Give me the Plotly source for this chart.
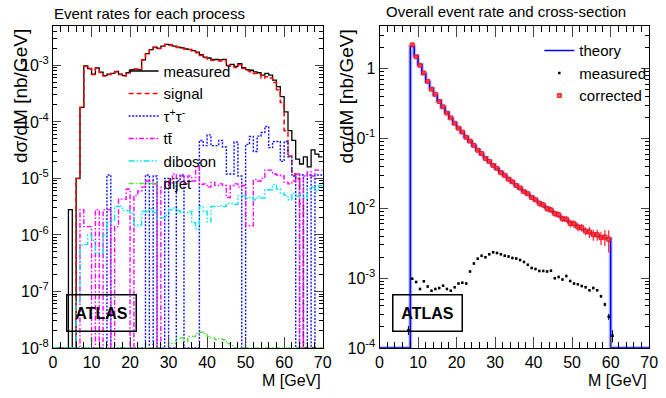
import plotly.graph_objects as go

# ---------------- data (1 GeV bins, 0..70 GeV) ----------------
bin_edges = list(range(0, 71))

measured = [0, 0, 0, 0, 2.8e-6, 0, 1.0e-5, 1.8e-4,
            9.8e-4, 8.8e-4, 7.0e-4, 9.0e-4, 7.6e-4, 6.6e-4, 7.0e-4, 7.2e-4, 7.8e-4, 7.0e-4,
            6.6e-4, 7.4e-4, 8.4e-4, 8.6e-4, 8.4e-4, 1.25e-3, 1.62e-3, 1.9e-3, 2.1e-3, 2.0e-3,
            2.2e-3, 2.35e-3, 2.3e-3, 2.2e-3, 2.1e-3, 2.05e-3, 1.95e-3, 1.92e-3, 1.82e-3, 1.71e-3,
            1.55e-3, 1.40e-3, 1.35e-3, 1.27e-3, 1.27e-3, 1.25e-3, 1.28e-3, 1.0e-3, 1.04e-3, 0.96e-3,
            1.07e-3, 0.91e-3, 0.84e-3, 0.82e-3, 0.77e-3, 0.74e-3, 0.67e-3, 0.72e-3, 0.67e-3, 0.55e-3,
            0.42e-3, 0.28e-3, 1.5e-4, 7e-5, 4.7e-5, 2.2e-5, 1.8e-5, 2.4e-5, 1.6e-5, 3.2e-5,
            2.7e-5, 2.4e-5]

signal = [0, 0, 0, 0, 0, 0, 1.0e-5, 1.8e-4,
          9.7e-4, 8.7e-4, 6.9e-4, 8.9e-4, 7.5e-4, 6.5e-4, 6.9e-4, 7.1e-4, 7.7e-4, 6.9e-4,
          6.5e-4, 7.3e-4, 8.3e-4, 8.5e-4, 8.3e-4, 1.24e-3, 1.6e-3, 1.88e-3, 2.08e-3, 1.98e-3,
          2.18e-3, 2.33e-3, 2.28e-3, 2.18e-3, 2.08e-3, 2.03e-3, 1.93e-3, 1.9e-3, 1.8e-3, 1.68e-3,
          1.5e-3, 1.36e-3, 1.3e-3, 1.23e-3, 1.23e-3, 1.2e-3, 1.24e-3, 0.98e-3, 1.0e-3, 0.92e-3,
          1.03e-3, 0.88e-3, 0.8e-3, 0.77e-3, 0.72e-3, 0.69e-3, 0.6e-3, 0.63e-3, 0.6e-3, 0.5e-3,
          0.37e-3, 2.2e-4, 7e-5, 2.5e-5, 1.2e-5, 1.0e-5, 3.5e-6, 0, 0, 0,
          0, 0]

tautau = [0, 0, 0, 0, 0, 0, 0, 0, 0, 0, 0, 0, 0, 0, 1.15e-5, 0, 0, 0, 0, 0,
          0, 0, 0, 0, 1.15e-5, 0, 1.1e-5, 0, 0, 1.0e-5, 0, 0, 9e-6, 1.15e-5, 0, 0,
          0, 0, 4.7e-5, 3.8e-5, 5.9e-5, 3.8e-5, 3.8e-5, 4.7e-5, 3.6e-5, 1.2e-5, 1.2e-5, 4.4e-5,
          1.1e-5, 0, 4.0e-5, 5.5e-5, 3.0e-5, 5.6e-5, 6.5e-5, 8.3e-5, 3.5e-5, 4.5e-5, 4.5e-5, 2.0e-5,
          4.5e-5, 2.4e-5, 1.1e-5, 0, 1.15e-5, 0, 1.15e-5, 0, 1.15e-5, 1.15e-5]

ttbar = [0, 0, 0, 0, 0, 0, 0, 2.8e-6, 1.4e-6, 1.4e-6, 0, 2.8e-6, 0, 2.8e-6, 2.8e-6, 0,
         1.4e-6, 4.3e-6, 4.3e-6, 6.5e-6, 0, 5e-6, 6e-6, 7e-6, 9e-6, 9e-6, 8e-6, 0,
         7e-6, 9e-6, 8e-6, 1.2e-5, 1.0e-5, 1.1e-5, 8e-6, 1.1e-5, 9e-6, 1.6e-5, 7.8e-6, 8e-6,
         7e-6, 8.5e-6, 7.5e-6, 8e-6, 7.5e-6, 4.6e-6, 7.5e-6, 8e-6, 7e-6, 7.5e-6, 1.45e-6, 1.45e-6,
         9.5e-6, 9e-6, 1e-5, 1.4e-5, 1.4e-5, 1.2e-5, 1.15e-5, 1.1e-5, 8.5e-6, 8e-6, 9e-6, 1.2e-5,
         0, 1.1e-5, 1.3e-5, 1.1e-5, 1.4e-5, 1.4e-5]

diboson = [0, 0, 0, 0, 0, 0, 6.5e-8, 6.6e-7, 6.8e-7, 1.0e-6, 8e-7, 4.8e-7, 4.8e-7, 1.0e-6,
           1.66e-6, 1.8e-6, 3.2e-6, 3.2e-6, 2.7e-6, 2.7e-6, 2.4e-6, 1.45e-6, 1.5e-6, 2.6e-6,
           2.6e-6, 2.9e-6, 2.5e-6, 2.0e-6, 2.0e-6, 2.2e-6, 2.8e-6, 3.0e-6, 2.7e-6, 2.5e-6,
           2.5e-6, 2.6e-6, 1.66e-6, 1.3e-6, 3.2e-6, 2.6e-6, 1.7e-6, 3.2e-6, 3.2e-6, 3.3e-6,
           3.2e-6, 3.6e-6, 3.6e-6, 3.5e-6, 4.9e-6, 4.9e-6, 4.4e-6, 4.6e-6, 4.2e-6, 4.8e-6,
           4.5e-6, 6.3e-6, 6.3e-6, 7.8e-6, 6.5e-6, 5.5e-6, 5.0e-6, 4.2e-6, 5.5e-6, 4.8e-6,
           5.2e-6, 4.6e-6, 6.5e-6, 7e-6, 6e-6, 7.5e-6]

dijet = [0] * 30 + [1.2e-8, 1.2e-8, 1.5e-8, 1.5e-8, 1.3e-8, 1.6e-8, 1.6e-8, 1.8e-8, 1.9e-8,
                    1.8e-8, 1.6e-8, 1.5e-8, 1.4e-8, 1.45e-8, 1.4e-8, 1.2e-8, 1.1e-8] + [0] * 23

theory = [0] * 8 + [2.1, 1.52, 1.14, 0.85, 0.65, 0.52, 0.42, 0.345, 0.28, 0.235, 0.195, 0.165,
                    0.142, 0.122, 0.105, 0.091, 0.079, 0.069, 0.060, 0.053, 0.047, 0.042, 0.037,
                    0.033, 0.0295, 0.0265, 0.0238, 0.0214, 0.0193, 0.0175, 0.0159, 0.0145, 0.0131,
                    0.0120, 0.0110, 0.0101, 0.0093, 0.0086, 0.0079, 0.0073, 0.0068, 0.0063, 0.0059,
                    0.0055, 0.0051, 0.0048, 0.0045, 0.0043, 0.0041, 0.0039, 0.0038, 0.0037] + [0] * 10

corr_mass = [m + 0.5 for m in range(8, 60)]
corrected = [2.2, 1.48, 1.12, 0.87, 0.66, 0.51, 0.43, 0.34, 0.285, 0.232, 0.198, 0.166, 0.141,
             0.124, 0.104, 0.092, 0.080, 0.068, 0.061, 0.052, 0.047, 0.041, 0.0375, 0.0325,
             0.0298, 0.0262, 0.024, 0.0212, 0.0196, 0.0173, 0.0162, 0.0143, 0.0133, 0.0118,
             0.0112, 0.0099, 0.0095, 0.0084, 0.0081, 0.0071, 0.0070, 0.0061, 0.0060, 0.0054,
             0.0053, 0.0047, 0.0046, 0.0042, 0.0042, 0.0038, 0.0039, 0.0036]
corrected_relerr = [0.04] * 13 + [0.05] * 10 + [0.07] * 10 + [0.10] * 8 + [0.13] * 5 + \
                   [0.18, 0.18, 0.18, 0.22, 0.26, 0.35]

meas_relerr = [0.3, 0.3, 0.3, 0.3, 0.3, 0.3, 0.2, 0.15] + [0.04] * 49 + [0.05, 0.06, 0.1, 0.2] + [0.3] * 9

left_ticks = [1e-8, 1e-7, 1e-6, 1e-5, 1e-4, 1e-3]
left_ticktext = ["10<sup>-8</sup>", "10<sup>-7</sup>", "10<sup>-6</sup>", "10<sup>-5</sup>",
                 "10<sup>-4</sup>", "10<sup>-3</sup>"]
right_ticks = [1e-4, 1e-3, 1e-2, 1e-1, 1]
right_ticktext = ["10<sup>-4</sup>", "10<sup>-3</sup>", "10<sup>-2</sup>", "10<sup>-1</sup>", "1"]
x_ticks = [0, 10, 20, 30, 40, 50, 60, 70]

# ---------------- helpers ----------------
FONT = "Liberation Sans, Arial, sans-serif"
FLOOR_L = 1e-8
FLOOR_R = 1e-4


def step_xy(vals, floor):
    y = [v if v > 0 else floor for v in vals]
    return bin_edges, y + [y[-1]]


def minor_log(lo, hi):
    out = []
    for e in range(lo, hi + 1):
        for k in range(2, 10):
            out.append(k * 10.0 ** e)
    return out


fig = go.Figure()

left_series = [
    ("measured", measured, "black", "solid", 1.3),
    ("signal", signal, "#ff0000", "5px,3px", 1.5),
    ("τ<sup>+</sup>τ<sup>-</sup>", tautau, "#1010ff", "2px,1.5px", 1.4),
    ("tt\u0304", ttbar, "#ff00ff", "5px,2px,1.5px,2px", 1.4),
    ("diboson", diboson, "#00e5ee", "6px,2px,1.5px,2px,1.5px,2px", 1.4),
    ("dijet", dijet, "#55e040", "5px,2px,1.5px,2px", 1.4),
]
for name, vals, col, dash, w in left_series:
    xs, ys = step_xy(vals, FLOOR_L)
    fig.add_trace(go.Scatter(x=xs, y=ys, mode="lines", name=name, line_shape="hv",
                             line=dict(color=col, dash=dash, width=w),
                             xaxis="x", yaxis="y", legend="legend"))

# right panel
xs, ys = step_xy(theory, FLOOR_R)
fig.add_trace(go.Scatter(x=xs, y=ys, mode="lines", line_shape="hv", showlegend=False,
                         line=dict(color="rgba(120,120,255,0.45)", width=4),
                         xaxis="x2", yaxis="y2", hoverinfo="skip"))
fig.add_trace(go.Scatter(x=xs, y=ys, mode="lines", line_shape="hv", name="theory",
                         line=dict(color="#0000ff", width=1.6),
                         xaxis="x2", yaxis="y2", legend="legend2"))

meas_x = [m + 0.5 for m in range(70)]
meas_y = [v if v > 0 else None for v in measured]
fig.add_trace(go.Scatter(x=meas_x, y=meas_y, mode="markers", name="measured",
                         marker=dict(color="black", size=2.5, symbol="square"),
                         error_y=dict(type="data", array=[v * e if v else 0 for v, e in zip(measured, meas_relerr)],
                                      color="black", thickness=1, width=0),
                         xaxis="x2", yaxis="y2", legend="legend2"))
fig.add_trace(go.Scatter(x=corr_mass, y=corrected, mode="markers", name="corrected",
                         marker=dict(color="rgba(255,60,60,0.85)", size=4, symbol="square",
                                     line=dict(width=0.8, color="#ff0000")),
                         error_y=dict(type="data", array=[v * e for v, e in zip(corrected, corrected_relerr)],
                                      color="#ff2020", thickness=1.2, width=0),
                         xaxis="x2", yaxis="y2", legend="legend2"))

W, H = 666, 398
ydom = [1 - 356 / H, 1 - 27 / H]

axis_common = dict(showline=True, linecolor="black", linewidth=1, mirror="allticks",
                   ticks="inside", showgrid=False, zeroline=False,
                   tickfont=dict(family=FONT, size=16, color="black"))

xcommon = dict(axis_common, range=[0, 70], tickmode="array", tickvals=x_ticks, ticklen=11,
               minor=dict(ticks="inside", dtick=2, ticklen=6, showgrid=False, tickcolor="black"))

fig.update_layout(
    width=W, height=H, margin=dict(l=0, r=0, t=0, b=0),
    paper_bgcolor="white", plot_bgcolor="white",
    font=dict(family=FONT, color="black"),
    xaxis=dict(xcommon, domain=[50 / W, 325 / W], anchor="y"),
    yaxis=dict(axis_common, type="log", domain=ydom, range=[-8, -2.31], anchor="x",
               tickmode="array", tickvals=left_ticks, ticktext=left_ticktext, ticklen=8,
               minor=dict(ticks="inside", tickmode="array", tickvals=minor_log(-8, -3), ticklen=4,
                          showgrid=False, tickcolor="black")),
    xaxis2=dict(xcommon, domain=[383 / W, 658 / W], anchor="y2"),
    yaxis2=dict(axis_common, type="log", domain=ydom, range=[-4, 0.607], anchor="x2",
                tickmode="array", tickvals=right_ticks, ticktext=right_ticktext, ticklen=8,
                minor=dict(ticks="inside", tickmode="array", tickvals=minor_log(-4, 0), ticklen=4,
                           showgrid=False, tickcolor="black")),
    legend=dict(x=122 / W, y=1 - 56 / H, xanchor="left", yanchor="top",
                bgcolor="rgba(0,0,0,0)", font=dict(family=FONT, size=15), tracegroupgap=0),
    legend2=dict(x=546 / W, y=1 - 35 / H, xanchor="left", yanchor="top",
                 bgcolor="rgba(0,0,0,0)", font=dict(family=FONT, size=15), tracegroupgap=0),
)

ann = []
ann.append(dict(text="Event rates for each process", x=49 / W, y=1 - 14 / H, xref="paper", yref="paper",
                xanchor="left", yanchor="middle", showarrow=False, font=dict(size=15)))
ann.append(dict(text="Overall event rate and cross-section", x=512 / W, y=1 - 12 / H, xref="paper",
                yref="paper", xanchor="center", yanchor="middle", showarrow=False, font=dict(size=15)))
for xp in (17, 349):
    ann.append(dict(text="dσ/dM [nb/GeV]", x=xp / W, y=1 - 28 / H, xref="paper", yref="paper",
                    xanchor="center", yanchor="top", textangle=-90, showarrow=False, font=dict(size=19)))
for xp in (325, 658):
    ann.append(dict(text="M [GeV]", x=xp / W, y=1 - 389 / H, xref="paper", yref="paper",
                    xanchor="right", yanchor="middle", showarrow=False, font=dict(size=16)))
for xc in (99, 432):
    ann.append(dict(text="<b>ATLAS</b>", x=xc / W, y=1 - 320 / H, xref="paper", yref="paper",
                    xanchor="center", yanchor="middle", showarrow=False, font=dict(size=16),
                    bordercolor="black", borderwidth=1.5, borderpad=0, width=68, height=35,
                    bgcolor="rgba(255,255,255,0)"))
fig.update_layout(annotations=ann)

fig.write_html("out.html")
